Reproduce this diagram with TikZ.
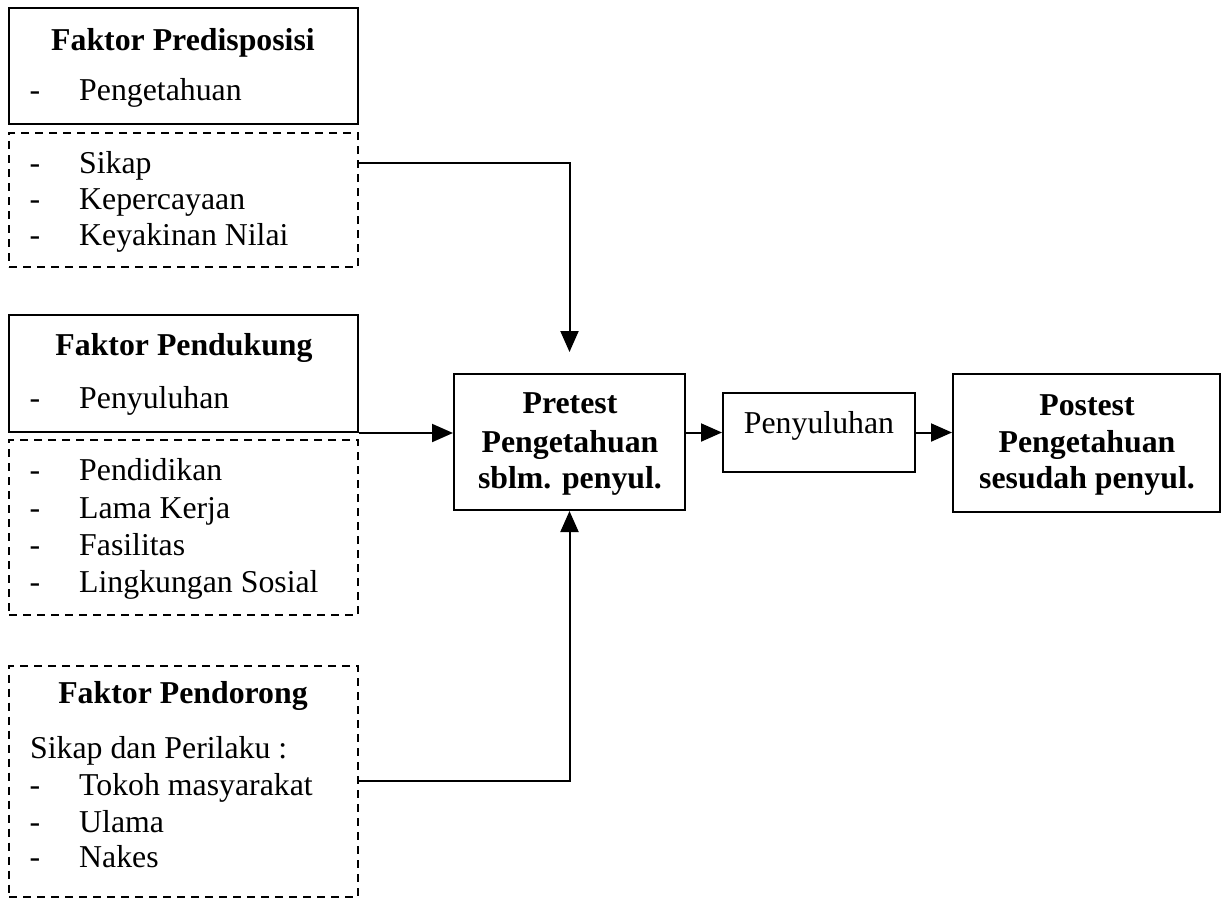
\documentclass[tikz,border=0pt]{standalone}
\usepackage{fontspec}
\setmainfont{Liberation Serif}
\usetikzlibrary{arrows.meta}
\begin{document}
\begin{tikzpicture}[x=1pt,y=-1pt,
  solidbox/.style={draw, line width=2pt, rectangle, inner sep=0pt},
  dashbox/.style={draw, line width=2pt, rectangle, inner sep=0pt, dash pattern=on 8pt off 6pt},
  txt/.style={inner sep=0pt, anchor=base west, font=\fontsize{31.8}{38}\selectfont},
  ctxt/.style={inner sep=0pt, anchor=base, font=\fontsize{31.8}{38}\selectfont},
  btxt/.style={inner sep=0pt, anchor=base, font=\fontsize{31.8}{38}\selectfont\bfseries},
  arr/.style={line width=2pt, -{Triangle[length=21pt,width=18pt]}}
]
\useasboundingbox (0,0) rectangle (1227,899);
% boxes
\node[solidbox, minimum width=349pt, minimum height=116pt] (pre1) at (183.5,66) {};
\node[dashbox, minimum width=349pt, minimum height=134pt] (pre2) at (183.5,200) {};
\node[solidbox, minimum width=349pt, minimum height=117pt] (sup1) at (183.5,373.5) {};
\node[dashbox, minimum width=349pt, minimum height=175pt] (sup2) at (183.5,527.5) {};
\node[dashbox, minimum width=349pt, minimum height=231pt] (push) at (183.5,781) {};
\node[solidbox, minimum width=231pt, minimum height=136pt] (pretest) at (569.5,442) {};
\node[solidbox, minimum width=192pt, minimum height=79pt] (peny) at (819,432.5) {};
\node[solidbox, minimum width=267pt, minimum height=138pt] (post) at (1086.5,443) {};
% texts box 1
\node[btxt] (t1) at (183,51) {Faktor Predisposisi};
\node[ctxt] (d1) at (35,100) {-};
\node[txt] (t2) at (79,100) {Pengetahuan};
% box 2
\node[ctxt] (d2) at (35,173) {-};
\node[txt] (t3) at (79,173) {Sikap};
\node[ctxt] (d3) at (35,209) {-};
\node[txt] (t4) at (79,209) {Kepercayaan};
\node[ctxt] (d4) at (35,245) {-};
\node[txt] (t5) at (79,245) {Keyakinan Nilai};
% box 3
\node[btxt] (t6) at (184,355) {Faktor Pendukung};
\node[ctxt] (d5) at (35,408) {-};
\node[txt] (t7) at (79,408) {Penyuluhan};
% box 4
\node[ctxt] (d6) at (35,480) {-};
\node[txt] (t8) at (79,480) {Pendidikan};
\node[ctxt] (d7) at (35,518) {-};
\node[txt] (t9) at (79,518) {Lama Kerja};
\node[ctxt] (d8) at (35,555) {-};
\node[txt] (t10) at (79,555) {Fasilitas};
\node[ctxt] (d9) at (35,592) {-};
\node[txt] (t11) at (79,592) {Lingkungan Sosial};
% box 5
\node[btxt] (t12) at (183,703) {Faktor Pendorong};
\node[txt] (t13) at (30,758) {Sikap dan Perilaku :};
\node[ctxt] (d10) at (35,795) {-};
\node[txt] (t14) at (79,795) {Tokoh masyarakat};
\node[ctxt] (d11) at (35,832) {-};
\node[txt] (t15) at (79,832) {Ulama};
\node[ctxt] (d12) at (35,867) {-};
\node[txt] (t16) at (79,867) {Nakes};
% pretest
\node[btxt] (t17) at (570,413) {Pretest};
\node[btxt] (t18) at (570,452) {Pengetahuan};
\node[btxt] (t19) at (570,488) {sblm. penyul.};
% penyuluhan
\node[ctxt] (t20) at (819,433) {Penyuluhan};
% postest
\node[btxt] (t21) at (1087,415) {Postest};
\node[btxt] (t22) at (1087,452) {Pengetahuan};
\node[btxt] (t23) at (1087,488) {sesudah penyul.};
% connectors
\coordinate (c1) at (570,163);
\draw[arr, shorten >=21pt] (pre2.east |- c1) -| (pretest.north);
\draw[arr] (sup1.south east) -- (pretest.west |- sup1.south east);
\draw[arr] (push.east) -| (pretest.south);
\draw[arr] (pretest.east |- peny.west) -- (peny.west);
\draw[arr] (peny.east) -- (post.west |- peny.east);
\end{tikzpicture}
\end{document}
